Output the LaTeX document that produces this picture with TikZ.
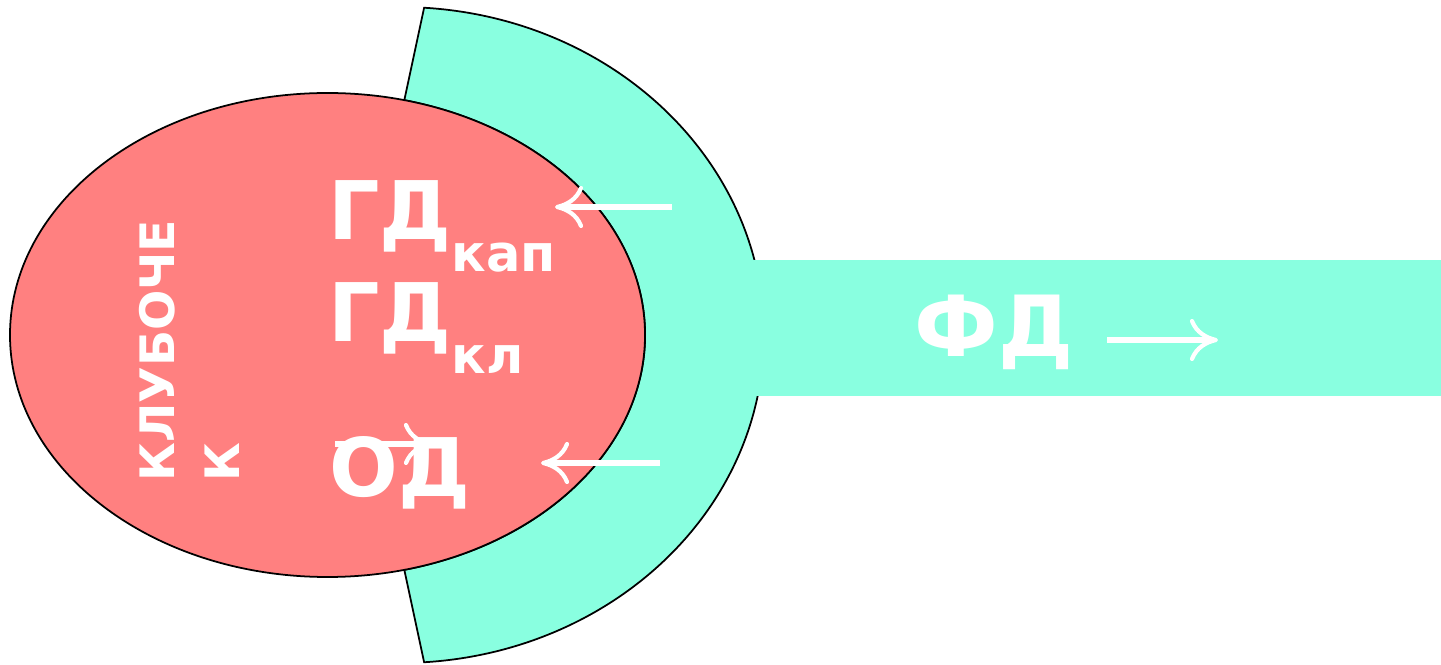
\documentclass[tikz,border=0pt]{standalone}
\usepackage{fontspec}
\setmainfont{DejaVu Sans}
\usepackage{tikz}
\usetikzlibrary{arrows.meta,calc}
\definecolor{globred}{RGB}{255,128,128}
\definecolor{capmint}{RGB}{137,255,224}
\newcommand{\lowsub}[1]{\raisebox{-18pt}{\fontsize{29}{29}\selectfont #1}}

\begin{document}
\begin{tikzpicture}[
  >={Computer Modern Rightarrow[length=16pt,width=24pt,line width=2.4pt]},
  line/.style={line width=1pt},
  flow/.style={->, white, line width=3.4pt},
  big/.style={text=white, font=\fontsize{46}{46}\selectfont\bfseries, inner sep=0pt, anchor=base west},
  side/.style={text=white, font=\fontsize{27}{37}\selectfont\bfseries, inner sep=0pt,
    rotate=90, align=left, anchor=north west}
]
  \useasboundingbox (0,0) rectangle (28.82,13.28);
  \coordinate (E) at (6.55,6.58);
  \coordinate (C) at (8.0,6.58);
  \coordinate (top) at ($(C)+(86.2:7.28 and 6.56)$);
  \coordinate (bot) at ($(C)+(-86.2:7.28 and 6.56)$);
  \coordinate (itop) at ($(E)+(76:6.35 and 4.84)$);
  \coordinate (ibot) at ($(E)+(-76:6.35 and 4.84)$);

  \draw[line, fill=capmint] (itop) -- (top)
    arc[start angle=86.2, end angle=-86.2, x radius=7.28, y radius=6.56]
    -- (ibot) arc[start angle=-76, end angle=76, x radius=6.35, y radius=4.84] -- cycle;
  \fill[capmint] (14.8,5.36) rectangle (28.82,8.08);
  \draw[line, fill=globred] (E) ellipse[x radius=6.35, y radius=4.84];

  \node[side] (klub) at (2.78,3.64) {КЛУБОЧЕ\\К};
  \node[big] (gdkap) at (6.56,8.48) {ГД\lowsub{кап}};
  \node[big] (gdkl) at (6.56,6.44) {ГД\lowsub{кл}};
  \node[big] (od) at (6.58,3.34) {ОД};
  \node[big, font=\fontsize{48}{48}\selectfont\bfseries] (fd) at (18.28,6.14) {ФД};

  \coordinate (a1s) at (13.44,9.14);
  \coordinate (a1e) at (11.10,9.14);
  \coordinate (a2s) at (13.20,4.02);
  \coordinate (a2e) at (10.82,4.02);
  \coordinate (a3s) at (22.14,6.48);
  \coordinate (a3e) at (24.36,6.48);
  \coordinate (a4s) at (6.70,4.40);
  \coordinate (a4e) at (8.64,4.40);
  \draw[flow] (a1s) -- (a1e);
  \draw[flow] (a2s) -- (a2e);
  \draw[flow] (a3s) -- (a3e);
  \draw[flow] (a4s) -- (a4e);
\end{tikzpicture}
\end{document}
